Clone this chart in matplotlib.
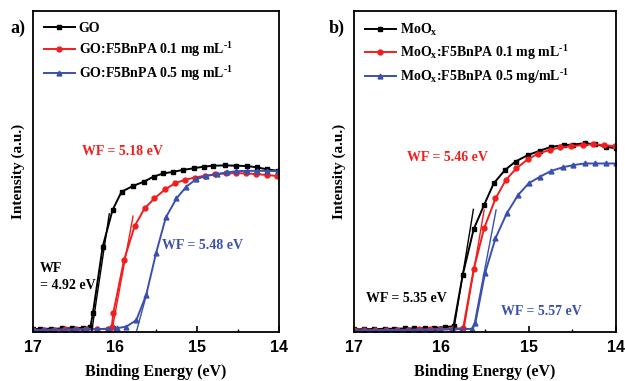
import matplotlib
matplotlib.use("Agg")
import matplotlib.pyplot as plt
from matplotlib.ticker import MultipleLocator

plt.rcParams['mathtext.fontset'] = 'custom'
plt.rcParams['mathtext.rm'] = 'Liberation Serif:bold'
plt.rcParams['mathtext.bf'] = 'Liberation Serif:bold'
plt.rcParams['mathtext.it'] = 'Liberation Serif:bold'
plt.rcParams['mathtext.default'] = 'rm'

# ---------------- Panel a) data ----------------
go_E = [17.0, 16.91, 16.78, 16.65, 16.52, 16.39, 16.30, 16.27, 16.15, 16.03, 15.92, 15.78, 15.65,
        15.53, 15.41, 15.29, 15.17, 15.04, 14.92, 14.80, 14.66, 14.52, 14.39, 14.27, 14.15, 14.01]
go_I = [0.008, 0.010, 0.010, 0.011, 0.012, 0.013, 0.015, 0.058, 0.266, 0.380, 0.437, 0.455, 0.468,
        0.484, 0.494, 0.499, 0.505, 0.510, 0.515, 0.518, 0.519, 0.518, 0.517, 0.513, 0.507, 0.502]

go01_E = [17.0, 16.87, 16.74, 16.61, 16.48, 16.35, 16.22, 16.09, 16.04, 16.02, 15.89, 15.76, 15.64,
          15.52, 15.39, 15.27, 15.15, 15.03, 14.90, 14.78, 14.65, 14.53, 14.40, 14.28, 14.15, 14.02]
go01_I = [0.006, 0.007, 0.007, 0.008, 0.008, 0.008, 0.009, 0.010, 0.015, 0.060, 0.224, 0.330, 0.385,
          0.416, 0.444, 0.463, 0.474, 0.481, 0.487, 0.491, 0.494, 0.495, 0.494, 0.492, 0.489, 0.486]

go05_E = [17.0, 16.87, 16.74, 16.61, 16.48, 16.35, 16.22, 16.09, 15.97, 15.86, 15.74, 15.62, 15.50,
          15.38, 15.25, 15.13, 15.01, 14.89, 14.76, 14.64, 14.52, 14.39, 14.27, 14.15, 14.01]
go05_I = [0.006, 0.006, 0.007, 0.007, 0.008, 0.008, 0.009, 0.010, 0.012, 0.017, 0.037, 0.115, 0.245,
          0.357, 0.416, 0.453, 0.476, 0.486, 0.492, 0.497, 0.501, 0.502, 0.502, 0.502, 0.501]

# tangent (cut-off) lines, panel a)
tan_go_E = [16.285, 16.07]
tan_go_I = [0.0, 0.368]
tan_go01_E = [16.04, 15.78]
tan_go01_I = [0.0, 0.361]
tan_go05_E = [15.74, 15.606]
tan_go05_I = [0.0, 0.126]

labels_a = ["GO", "GO:F5BnPA 0.1 mg mL$^{\\text{-1}}$", "GO:F5BnPA 0.5 mg mL$^{\\text{-1}}$"]
wf_a = ["WF = 5.18 eV", "WF = 5.48 eV", "WF\n= 4.92 eV"]

# ---------------- Panel b) data ----------------
mo_E = [17.0, 16.88, 16.77, 16.65, 16.54, 16.42, 16.31, 16.19, 16.08, 15.96, 15.86, 15.755, 15.63,
        15.51, 15.40, 15.27, 15.15, 15.01, 14.87, 14.74, 14.60, 14.49, 14.36, 14.24, 14.11, 14.0]
mo_I = [0.008, 0.009, 0.009, 0.010, 0.010, 0.011, 0.011, 0.012, 0.013, 0.015, 0.018, 0.178, 0.320,
        0.396, 0.463, 0.505, 0.531, 0.551, 0.565, 0.577, 0.582, 0.584, 0.588, 0.585, 0.577, 0.572]

mo01_E = [17.0, 16.88, 16.76, 16.63, 16.51, 16.38, 16.26, 16.13, 16.01, 15.88, 15.75, 15.63, 15.51,
          15.38, 15.26, 15.14, 15.01, 14.89, 14.76, 14.64, 14.51, 14.38, 14.26, 14.14, 14.01]
mo01_I = [0.005, 0.005, 0.006, 0.006, 0.007, 0.007, 0.008, 0.008, 0.009, 0.010, 0.012, 0.195, 0.323,
          0.416, 0.474, 0.510, 0.538, 0.556, 0.567, 0.575, 0.579, 0.582, 0.585, 0.582, 0.579]

mo05_E = [17.0, 16.88, 16.76, 16.63, 16.51, 16.38, 16.26, 16.13, 16.01, 15.88, 15.76, 15.65, 15.61,
          15.50, 15.38, 15.25, 15.12, 15.00, 14.87, 14.74, 14.61, 14.49, 14.36, 14.24, 14.11, 14.0]
mo05_I = [0.004, 0.005, 0.005, 0.005, 0.006, 0.006, 0.007, 0.007, 0.008, 0.008, 0.009, 0.010, 0.029,
          0.183, 0.292, 0.370, 0.427, 0.463, 0.484, 0.502, 0.513, 0.520, 0.525, 0.525, 0.525, 0.525]

tan_mo_E = [15.862, 15.633]
tan_mo_I = [0.0, 0.382]
tan_mo01_E = [15.748, 15.51]
tan_mo01_I = [0.0, 0.380]
tan_mo05_E = [15.64, 15.373]
tan_mo05_I = [0.0, 0.380]

labels_b = ["MoO$_x$", "MoO$_x$:F5BnPA 0.1 mg mL$^{\\text{-1}}$",
            "MoO$_x$:F5BnPA 0.5 mg/mL$^{\\text{-1}}$"]
wf_b = ["WF = 5.46 eV", "WF = 5.35 eV", "WF = 5.57 eV"]

BLACK = "#000000"
RED = "#f21d1d"
BLUE = "#3a50ad"
SERIF = "Liberation Serif"

fig = plt.figure(figsize=(6.25, 3.81), dpi=100)
axA = fig.add_axes([33/625, 49/381, 246/625, 321/381])
axB = fig.add_axes([354/625, 49/381, 262/625, 321/381])


def style(ax):
    ax.set_xlim(17, 14)
    ax.set_ylim(0, 1)
    ax.set_yticks([])
    ax.xaxis.set_major_locator(MultipleLocator(1))
    ax.xaxis.set_minor_locator(MultipleLocator(0.5))
    ax.tick_params(axis='x', which='major', direction='in', length=4, width=1.2, pad=6,
                   labelsize=11.5)
    ax.tick_params(axis='x', which='minor', direction='in', length=2.5, width=1.0)
    for lab in ax.get_xticklabels():
        lab.set_fontfamily("Liberation Sans")
        lab.set_fontweight("bold")
    for s in ax.spines.values():
        s.set_linewidth(1.3)
    ax.set_xlabel("Binding Energy (eV)", fontfamily=SERIF, fontweight="bold", fontsize=11.5,
                  labelpad=6.5)
    ax.set_ylabel("Intensity (a.u.)", fontfamily=SERIF, fontweight="bold", fontsize=11,
                  labelpad=6)


def draw(ax, series, tangents, labels):
    colors = [BLACK, RED, BLUE]
    markers = ['s', 'o', '^']
    for (E, I), c, m, lab in zip(series, colors, markers, labels):
        ax.plot(E, I, color=c, marker=m, markersize=3.5, linewidth=1.4, label=lab)
    for (E, I), c in zip(tangents, colors):
        ax.plot(E, I, color=c, linewidth=1.0)
    leg = ax.legend(loc='upper left', bbox_to_anchor=(0.0, 1.0), frameon=False,
                    handlelength=2.2, handletextpad=0.3, labelspacing=0.35,
                    borderaxespad=0.4, prop={'family': SERIF, 'weight': 'bold', 'size': 10})
    return leg


draw(axA, [(go_E, go_I), (go01_E, go01_I), (go05_E, go05_I)],
     [(tan_go_E, tan_go_I), (tan_go01_E, tan_go01_I), (tan_go05_E, tan_go05_I)], labels_a)
draw(axB, [(mo_E, mo_I), (mo01_E, mo01_I), (mo05_E, mo05_I)],
     [(tan_mo_E, tan_mo_I), (tan_mo01_E, tan_mo01_I), (tan_mo05_E, tan_mo05_I)], labels_b)

style(axA)
style(axB)

tkw = dict(fontfamily=SERIF, fontweight="bold", fontsize=10)
axA.text(0.362, 0.561, wf_a[0], color=RED, ha='center', va='center', transform=axA.transAxes, **tkw)
axA.text(0.691, 0.271, wf_a[1], color=BLUE, ha='center', va='center', transform=axA.transAxes, **tkw)
axA.text(0.028, 0.171, wf_a[2], color=BLACK, ha='left', va='center', transform=axA.transAxes,
         linespacing=1.35, **tkw)

axB.text(0.355, 0.545, wf_b[0], color=RED, ha='center', va='center', transform=axB.transAxes, **tkw)
axB.text(0.198, 0.103, wf_b[1], color=BLACK, ha='center', va='center', transform=axB.transAxes, **tkw)
axB.text(0.714, 0.065, wf_b[2], color=BLUE, ha='center', va='center', transform=axB.transAxes, **tkw)

fig.text(18/625, 1 - 28/381, "a)", fontfamily=SERIF, fontweight="bold", fontsize=13,
         ha='center', va='center')
fig.text(337/625, 1 - 28/381, "b)", fontfamily=SERIF, fontweight="bold", fontsize=13,
         ha='center', va='center')

fig.savefig("out.png", dpi=100)
